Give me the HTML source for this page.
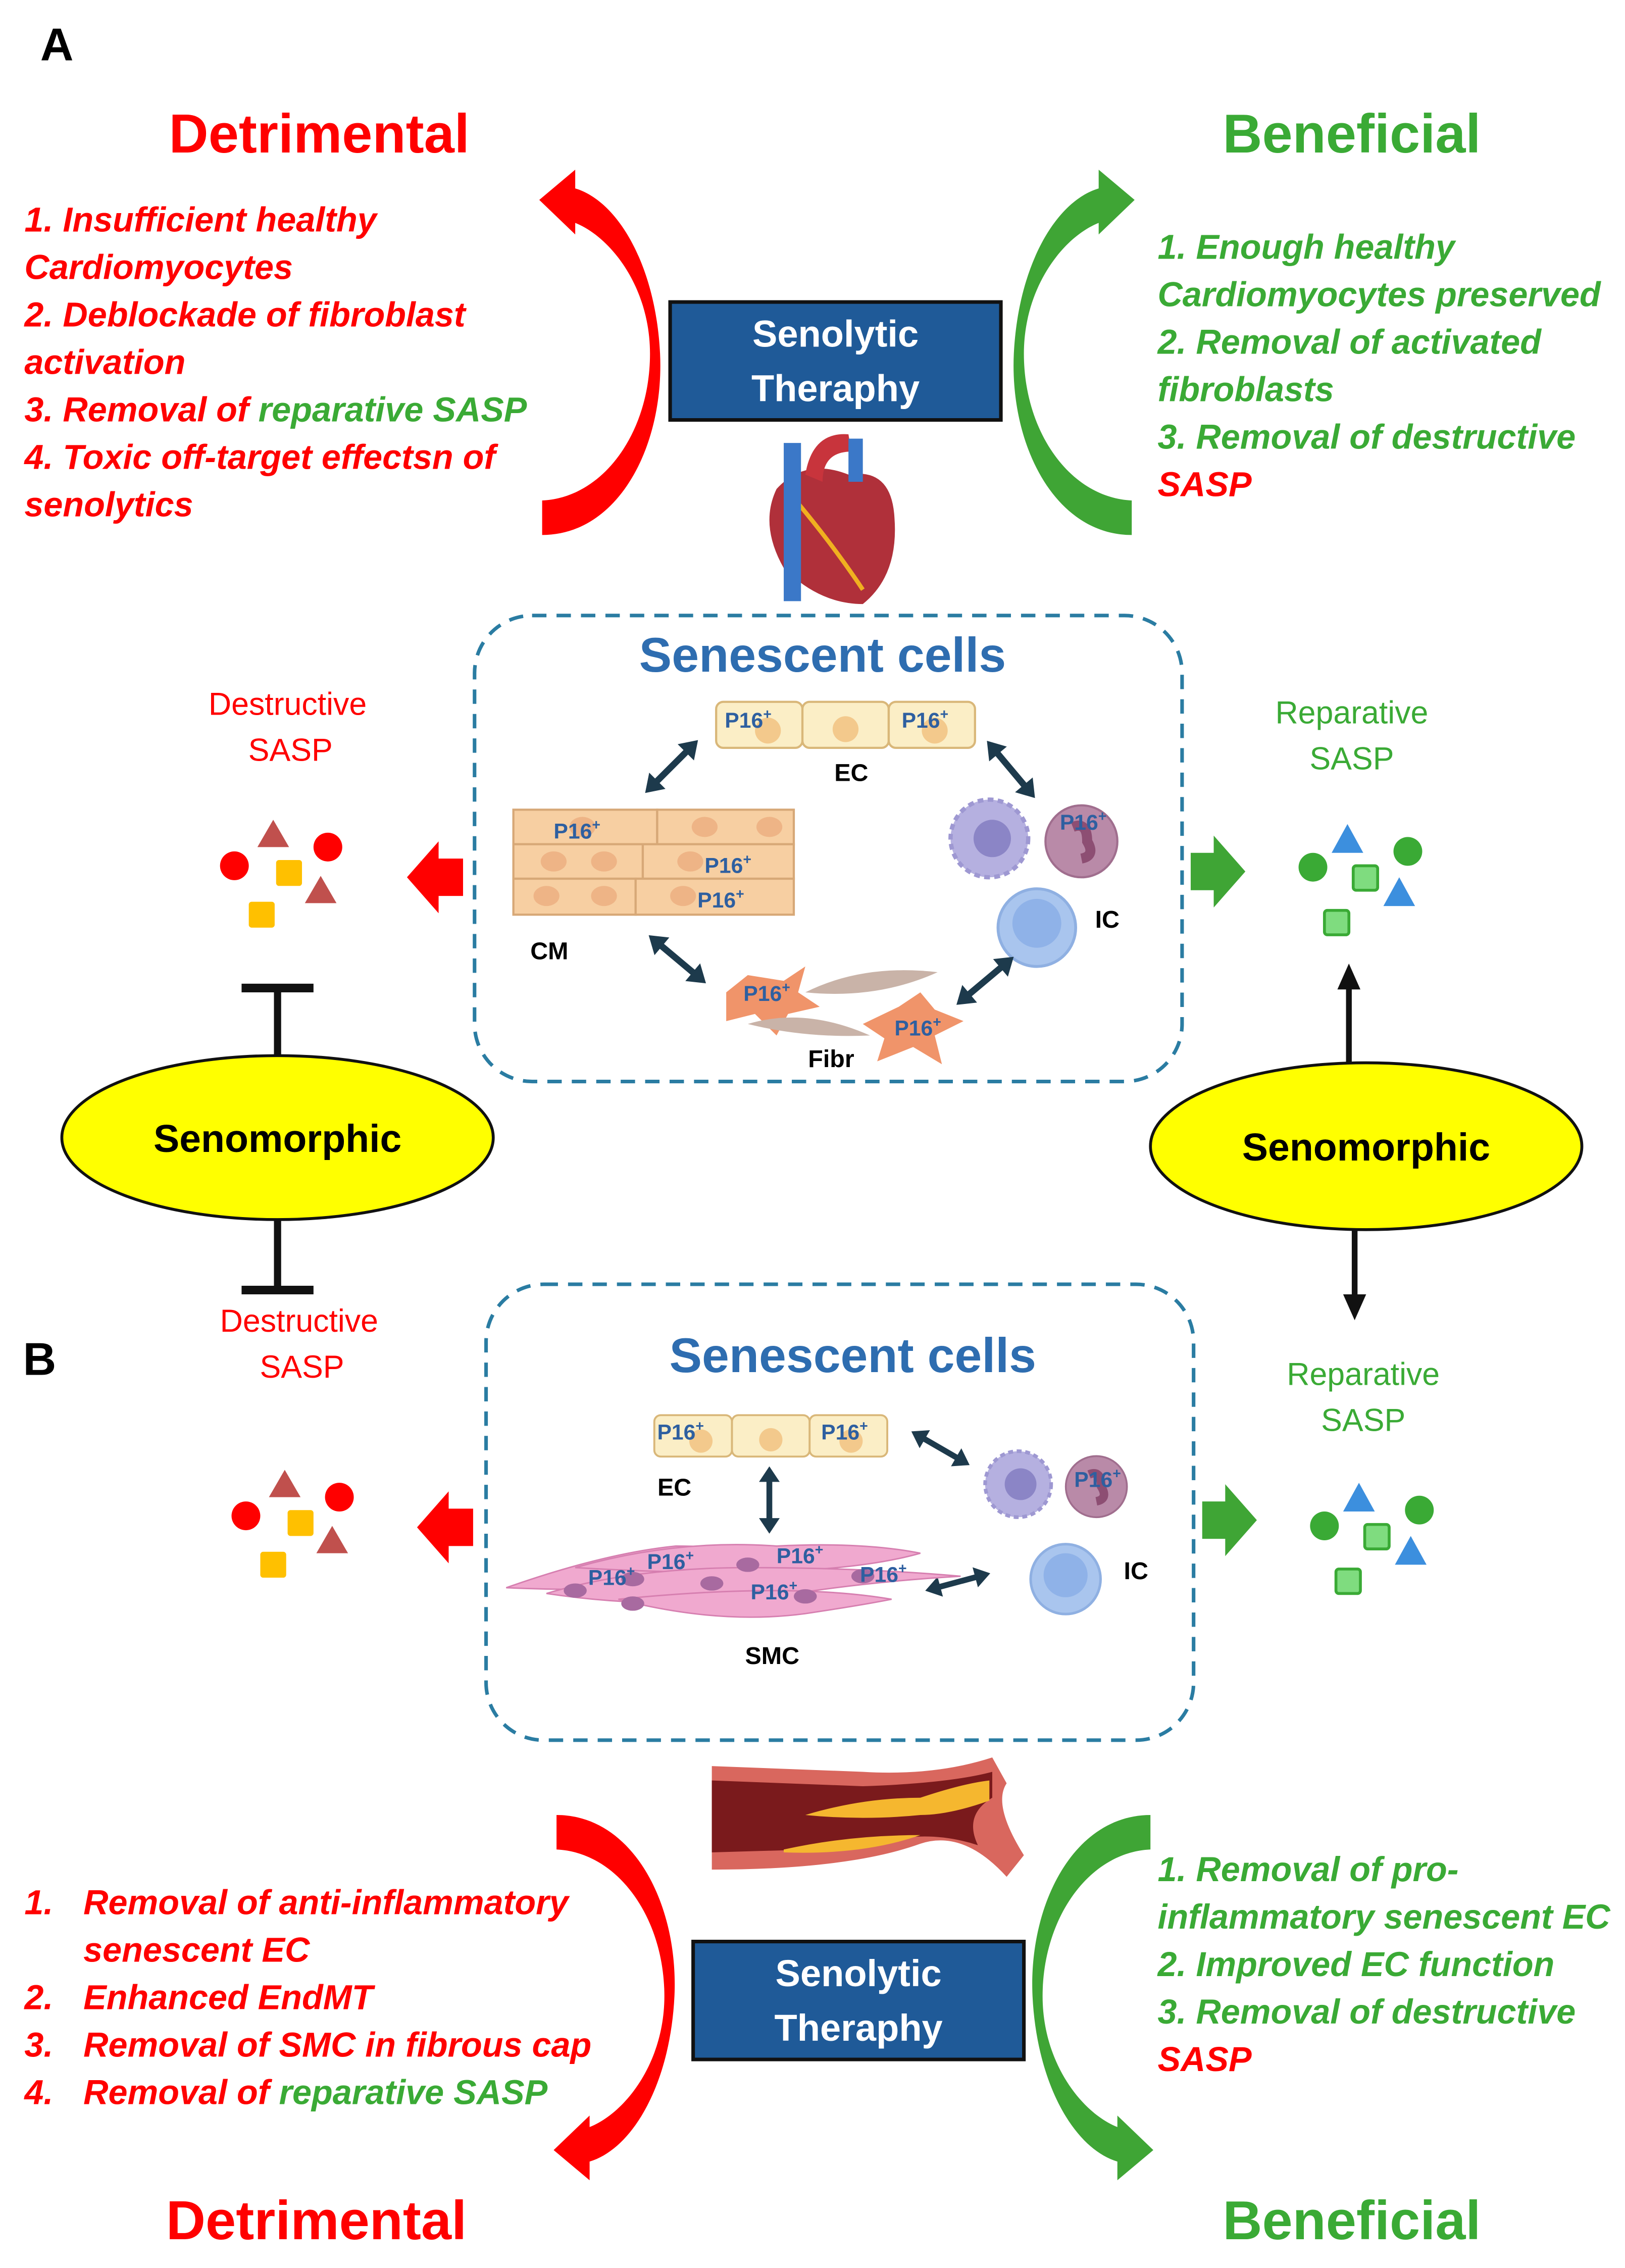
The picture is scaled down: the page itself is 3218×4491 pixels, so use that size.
<!DOCTYPE html>
<html><head><meta charset="utf-8"><style>html,body{margin:0;padding:0;background:#fff}svg{display:block}</style></head><body>
<svg width="3218" height="4491" viewBox="0 0 1130 1577" preserveAspectRatio="none" xmlns="http://www.w3.org/2000/svg" font-family="'Liberation Sans', sans-serif">
<defs>
<g id="dbl"><line x1="-18" y1="0" x2="18" y2="0" stroke="#1d3a4c" stroke-width="4.5"/><polygon points="-26,0 -14,-8 -14,8" fill="#1d3a4c"/><polygon points="26,0 14,-8 14,8" fill="#1d3a4c"/></g>
<g id="ec"><rect x="0" y="0" width="60" height="32" rx="5" fill="#fbeec6" stroke="#d9b779" stroke-width="1.5"/><rect x="60" y="0" width="60" height="32" rx="5" fill="#fbeec6" stroke="#d9b779" stroke-width="1.5"/><rect x="120" y="0" width="60" height="32" rx="5" fill="#fbeec6" stroke="#d9b779" stroke-width="1.5"/><circle cx="36" cy="20" r="9" fill="#f3c98c"/><circle cx="90" cy="19" r="9" fill="#f3c98c"/><circle cx="152" cy="20" r="9" fill="#f3c98c"/></g>
<g id="ics"><circle cx="0" cy="0" r="27" fill="#b5b0e0" stroke="#9e98d2" stroke-width="3" stroke-dasharray="4 3"/><circle cx="2" cy="0" r="13" fill="#8b85c6"/><circle cx="64" cy="2" r="25" fill="#b98aa8" stroke="#a06e8e" stroke-width="1.5"/><path d="M58,-8 q10,-4 10,10 q6,10 -4,12" stroke="#8d4e73" stroke-width="7" fill="none"/></g>
<g id="bc"><circle cx="0" cy="0" r="27" fill="#a9c5ee" stroke="#8fb0e2" stroke-width="2"/><circle cx="0" cy="-3" r="17" fill="#8fb2e8"/></g>
<g id="sasp_r"><circle cx="-27" cy="-8" r="10" fill="#ff0000"/><circle cx="38" cy="-21" r="10" fill="#ff0000"/><polygon points="0,-40 11,-21 -11,-21" fill="#c0504d"/><polygon points="33,-1 44,18 22,18" fill="#c0504d"/><rect x="2" y="-12" width="18" height="18" rx="2" fill="#ffc000"/><rect x="-17" y="17" width="18" height="18" rx="2" fill="#ffc000"/></g>
<g id="sasp_g"><circle cx="-30" cy="-7" r="10" fill="#3aaa35"/><circle cx="36" cy="-18" r="10" fill="#3aaa35"/><polygon points="-6,-37 5,-17 -17,-17" fill="#3c8fde"/><polygon points="30,0 41,20 19,20" fill="#3c8fde"/><rect x="-2" y="-8" width="17" height="17" rx="2" fill="#7fdc7f" stroke="#3aaa35" stroke-width="2"/><rect x="-22" y="23" width="17" height="17" rx="2" fill="#7fdc7f" stroke="#3aaa35" stroke-width="2"/></g>
<g id="p16"><text font-size="15" font-weight="bold" fill="#2e5fa0">P16<tspan font-size="10" dy="-6">+</tspan></text></g>
<path id="carrow" d="M377,372 C430,372 462,310 459,246 C456,185 430,140 400,131 L400,118 L375,139 L400,163 L400,155 C425,165 452,200 452,246 C452,300 420,346 377,348 Z"/>
</defs>

<!-- Panel A -->
<text x="28" y="42" font-size="32" font-weight="bold">A</text>
<text x="222" y="106" font-size="38" font-weight="bold" fill="#ff0000" text-anchor="middle">Detrimental</text>
<text x="940" y="106" font-size="38" font-weight="bold" fill="#3aaa35" text-anchor="middle">Beneficial</text>

<g font-size="24" font-weight="bold" font-style="italic" fill="#ff0000">
<text x="17" y="161">1. Insufficient healthy</text>
<text x="17" y="194">Cardiomyocytes</text>
<text x="17" y="227">2. Deblockade of fibroblast</text>
<text x="17" y="260">activation</text>
<text x="17" y="293">3. Removal of <tspan fill="#3aaa35">reparative SASP</tspan></text>
<text x="17" y="326">4. Toxic off-target effectsn of</text>
<text x="17" y="359">senolytics</text>
</g>
<g font-size="24" font-weight="bold" font-style="italic" fill="#3aaa35">
<text x="805" y="180">1. Enough healthy</text>
<text x="805" y="213">Cardiomyocytes preserved</text>
<text x="805" y="246">2. Removal of activated</text>
<text x="805" y="279">fibroblasts</text>
<text x="805" y="312">3. Removal of destructive</text>
<text x="805" y="345" fill="#ff0000">SASP</text>
</g>

<use href="#carrow" fill="#ff0000"/>
<use href="#carrow" fill="#3fa535" transform="translate(1164,0) scale(-1,1)"/>

<rect x="466" y="210" width="230" height="82" fill="#1f5a98" stroke="#111" stroke-width="2.5"/>
<text x="581" y="241" font-size="26" font-weight="bold" fill="#fff" text-anchor="middle">Senolytic</text>
<text x="581" y="279" font-size="26" font-weight="bold" fill="#fff" text-anchor="middle">Theraphy</text>

<!-- heart -->
<g>
<path d="M540,340 Q560,318 590,330 Q620,325 622,360 Q625,400 600,420 Q570,420 545,395 Q528,365 540,340 Z" fill="#b0303a"/>
<path d="M555,350 Q580,380 600,410" stroke="#f0b020" stroke-width="3" fill="none"/>
<rect x="545" y="308" width="12" height="110" fill="#3b78c8"/>
<path d="M560,330 Q565,300 590,302 L592,314 Q572,314 572,335 Z" fill="#c8343c"/>
<rect x="590" y="305" width="10" height="30" fill="#3b78c8"/>
</g>

<rect x="330" y="428" width="492" height="324" rx="40" fill="none" stroke="#2a7ca2" stroke-width="2.5" stroke-dasharray="10 7"/>
<text x="572" y="467" font-size="34" font-weight="bold" fill="#2e6db0" text-anchor="middle">Senescent cells</text>

<use href="#ec" x="498" y="488"/>
<use href="#p16" x="504" y="506"/><use href="#p16" x="627" y="506"/>
<text x="592" y="543" font-size="17" font-weight="bold" text-anchor="middle">EC</text>
<use href="#dbl" transform="translate(467,533) rotate(-45)"/>
<use href="#dbl" transform="translate(703,535) rotate(50)"/>
<!-- CM -->
<g stroke="#d7a877" stroke-width="1.5" fill="#f7cfa2">
<rect x="357" y="563" width="100" height="24"/><rect x="457" y="563" width="95" height="24"/>
<rect x="357" y="587" width="90" height="24"/><rect x="447" y="587" width="105" height="24"/>
<rect x="357" y="611" width="85" height="25"/><rect x="442" y="611" width="110" height="25"/>
</g>
<g fill="#eeb486"><ellipse cx="405" cy="575" rx="9" ry="7"/><ellipse cx="490" cy="575" rx="9" ry="7"/><ellipse cx="535" cy="575" rx="9" ry="7"/><ellipse cx="385" cy="599" rx="9" ry="7"/><ellipse cx="420" cy="599" rx="9" ry="7"/><ellipse cx="480" cy="599" rx="9" ry="7"/><ellipse cx="380" cy="623" rx="9" ry="7"/><ellipse cx="420" cy="623" rx="9" ry="7"/><ellipse cx="475" cy="623" rx="9" ry="7"/></g>
<use href="#p16" x="385" y="583"/><use href="#p16" x="490" y="607"/><use href="#p16" x="485" y="631"/>
<text x="382" y="667" font-size="17" font-weight="bold" text-anchor="middle">CM</text>
<use href="#ics" transform="translate(688,583)"/><use href="#p16" x="737" y="577"/>
<use href="#bc" transform="translate(721,645)"/>
<text x="770" y="645" font-size="17" font-weight="bold" text-anchor="middle">IC</text>
<use href="#dbl" transform="translate(471,667) rotate(40)"/>
<use href="#dbl" transform="translate(685,682) rotate(-40)"/>
<!-- fibroblasts -->
<path d="M505,690 L520,678 L545,682 L560,672 L555,690 L570,700 L548,705 L540,720 L525,705 L505,710 Z" fill="#f0946a"/>
<path d="M560,690 Q600,670 652,676 Q610,695 560,690 Z" fill="#c9b3a8"/>
<path d="M520,712 Q560,700 605,720 Q560,722 520,712 Z" fill="#c9b3a8"/>
<path d="M600,712 L625,700 L640,690 L650,702 L670,710 L650,720 L655,740 L635,728 L610,738 L615,722 Z" fill="#f0946a"/>
<use href="#p16" x="517" y="696"/><use href="#p16" x="622" y="720"/>
<text x="578" y="742" font-size="17" font-weight="bold" text-anchor="middle">Fibr</text>

<text x="200" y="497" font-size="22" fill="#ff0000" text-anchor="middle">Destructive</text>
<text x="202" y="529" font-size="22" fill="#ff0000" text-anchor="middle">SASP</text>
<use href="#sasp_r" transform="translate(190,610)"/>
<polygon points="283,610 305,585 305,597 322,597 322,623 305,623 305,635" fill="#ff0000"/>
<polygon points="866,606 844,581 844,593 828,593 828,619 844,619 844,631" fill="#3fa535"/>
<text x="940" y="503" font-size="22" fill="#3aaa35" text-anchor="middle">Reparative</text>
<text x="940" y="535" font-size="22" fill="#3aaa35" text-anchor="middle">SASP</text>
<use href="#sasp_g" transform="translate(943,610)"/>

<!-- Senomorphic -->
<ellipse cx="193" cy="791" rx="150" ry="57" fill="#ffff00" stroke="#111" stroke-width="2"/>
<text x="193" y="801" font-size="27" font-weight="bold" text-anchor="middle">Senomorphic</text>
<ellipse cx="950" cy="797" rx="150" ry="58" fill="#ffff00" stroke="#111" stroke-width="2"/>
<text x="950" y="807" font-size="27" font-weight="bold" text-anchor="middle">Senomorphic</text>
<line x1="193" y1="734" x2="193" y2="687" stroke="#111" stroke-width="5"/>
<line x1="168" y1="687" x2="218" y2="687" stroke="#111" stroke-width="6"/>
<line x1="193" y1="848" x2="193" y2="897" stroke="#111" stroke-width="5"/>
<line x1="168" y1="897" x2="218" y2="897" stroke="#111" stroke-width="6"/>
<line x1="938" y1="740" x2="938" y2="686" stroke="#111" stroke-width="4"/>
<polygon points="938,670 930,688 946,688" fill="#111"/>
<line x1="942" y1="855" x2="942" y2="902" stroke="#111" stroke-width="4"/>
<polygon points="942,918 934,900 950,900" fill="#111"/>

<!-- Panel B -->
<text x="16" y="956" font-size="32" font-weight="bold">B</text>
<text x="208" y="926" font-size="22" fill="#ff0000" text-anchor="middle">Destructive</text>
<text x="210" y="958" font-size="22" fill="#ff0000" text-anchor="middle">SASP</text>
<text x="948" y="963" font-size="22" fill="#3aaa35" text-anchor="middle">Reparative</text>
<text x="948" y="995" font-size="22" fill="#3aaa35" text-anchor="middle">SASP</text>

<rect x="338" y="893" width="492" height="317" rx="40" fill="none" stroke="#2a7ca2" stroke-width="2.5" stroke-dasharray="10 7"/>
<text x="593" y="954" font-size="34" font-weight="bold" fill="#2e6db0" text-anchor="middle">Senescent cells</text>
<g transform="translate(455,984) scale(0.9,0.9)"><use href="#ec"/></g>
<use href="#p16" x="457" y="1001"/><use href="#p16" x="571" y="1001"/>
<text x="469" y="1040" font-size="17" font-weight="bold" text-anchor="middle">EC</text>
<use href="#dbl" transform="translate(535,1043) rotate(90) scale(0.9)"/>
<use href="#dbl" transform="translate(654,1007) rotate(30) scale(0.9)"/>
<use href="#ics" transform="translate(708,1032) scale(0.85)"/><use href="#p16" x="747" y="1034"/>
<use href="#bc" transform="translate(741,1098) scale(0.9)"/>
<text x="790" y="1098" font-size="17" font-weight="bold" text-anchor="middle">IC</text>
<use href="#dbl" transform="translate(666,1100) rotate(-15) scale(0.9)"/>
<!-- SMC -->
<g fill="#f0a9cf" stroke="#d67fb0" stroke-width="1">
<path d="M352,1104 Q420,1080 470,1075 Q520,1075 560,1085 Q500,1110 352,1104 Z"/>
<path d="M400,1090 Q470,1070 540,1075 Q600,1072 640,1080 Q570,1100 400,1090 Z"/>
<path d="M380,1108 Q460,1120 540,1110 Q600,1100 668,1096 Q600,1090 520,1090 Q440,1090 380,1108 Z"/>
<path d="M430,1112 Q500,1130 560,1122 Q600,1116 620,1112 Q550,1100 430,1112 Z"/>
</g>
<g fill="#a86aa0"><ellipse cx="400" cy="1106" rx="8" ry="5"/><ellipse cx="440" cy="1098" rx="8" ry="5"/><ellipse cx="495" cy="1101" rx="8" ry="5"/><ellipse cx="440" cy="1115" rx="8" ry="5"/><ellipse cx="520" cy="1088" rx="8" ry="5"/><ellipse cx="560" cy="1110" rx="8" ry="5"/><ellipse cx="600" cy="1096" rx="8" ry="5"/></g>
<use href="#p16" x="409" y="1102"/><use href="#p16" x="450" y="1091"/><use href="#p16" x="540" y="1087"/><use href="#p16" x="522" y="1112"/><use href="#p16" x="598" y="1100"/>
<text x="537" y="1157" font-size="17" font-weight="bold" text-anchor="middle">SMC</text>

<use href="#sasp_r" transform="translate(198,1062)"/>
<polygon points="290,1062 312,1037 312,1049 329,1049 329,1075 312,1075 312,1087" fill="#ff0000"/>
<polygon points="874,1057 852,1032 852,1044 836,1044 836,1070 852,1070 852,1082" fill="#3fa535"/>
<use href="#sasp_g" transform="translate(951,1068)"/>

<!-- artery -->
<g>
<path d="M495,1228 L600,1232 Q650,1235 690,1222 L700,1240 Q690,1255 712,1290 L700,1305 Q670,1272 640,1282 Q590,1300 495,1300 Z" fill="#d9675e"/>
<path d="M495,1238 L600,1242 Q660,1240 690,1232 L690,1250 Q670,1262 680,1283 Q640,1270 600,1285 L495,1288 Z" fill="#7a1a1c"/>
<path d="M560,1262 Q600,1250 640,1250 Q670,1240 688,1238 L688,1252 Q660,1262 640,1262 Q600,1266 560,1262 Z" fill="#f5b72f"/>
<path d="M545,1286 Q590,1276 640,1276 Q600,1290 545,1288 Z" fill="#f5b72f"/>
</g>

<rect x="482" y="1350" width="230" height="82" fill="#1f5a98" stroke="#111" stroke-width="2.5"/>
<text x="597" y="1381" font-size="26" font-weight="bold" fill="#fff" text-anchor="middle">Senolytic</text>
<text x="597" y="1419" font-size="26" font-weight="bold" fill="#fff" text-anchor="middle">Theraphy</text>

<use href="#carrow" fill="#ff0000" transform="translate(10,1634) scale(1,-1)"/>
<use href="#carrow" fill="#3fa535" transform="translate(1177,1634) scale(-1,-1)"/>

<g font-size="24" font-weight="bold" font-style="italic" fill="#ff0000">
<text x="17" y="1331">1.</text><text x="58" y="1331">Removal of anti-inflammatory</text>
<text x="58" y="1364">senescent EC</text>
<text x="17" y="1397">2.</text><text x="58" y="1397">Enhanced EndMT</text>
<text x="17" y="1430">3.</text><text x="58" y="1430">Removal of SMC in fibrous cap</text>
<text x="17" y="1463">4.</text><text x="58" y="1463">Removal of <tspan fill="#3aaa35">reparative SASP</tspan></text>
</g>
<g font-size="24" font-weight="bold" font-style="italic" fill="#3aaa35">
<text x="805" y="1308">1. Removal of pro-</text>
<text x="805" y="1341">inflammatory senescent EC</text>
<text x="805" y="1374">2. Improved EC function</text>
<text x="805" y="1407">3. Removal of destructive</text>
<text x="805" y="1440" fill="#ff0000">SASP</text>
</g>
<text x="220" y="1557" font-size="38" font-weight="bold" fill="#ff0000" text-anchor="middle">Detrimental</text>
<text x="940" y="1557" font-size="38" font-weight="bold" fill="#3aaa35" text-anchor="middle">Beneficial</text>
</svg>
</body></html>
